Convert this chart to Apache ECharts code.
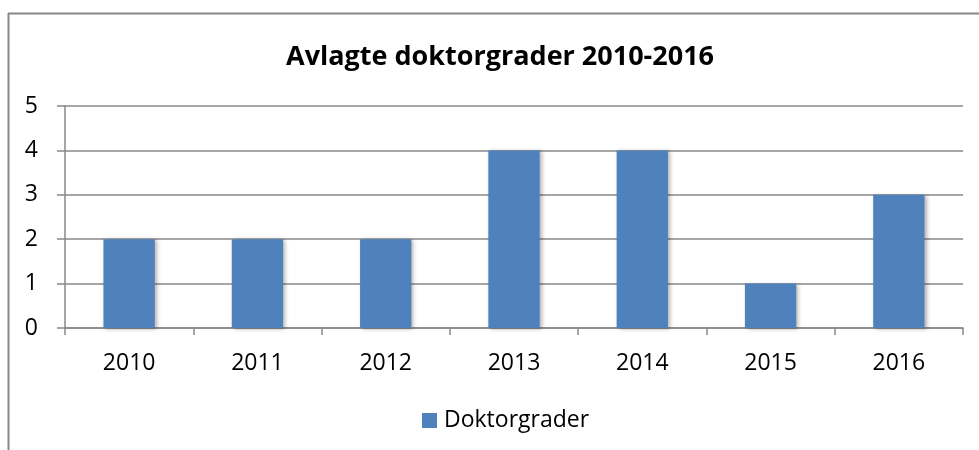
<!DOCTYPE html>
<html>
<head>
<meta charset="utf-8">
<script src="https://cdn.jsdelivr.net/npm/echarts@6/dist/echarts.min.js"></script>
<style>
html,body{margin:0;padding:0;background:#fff;}
#chart{width:979px;height:450px;}
</style>
</head>
<body>
<div id="chart"></div>
<script>
const titleText = 'Avlagte doktorgrader 2010-2016';
const seriesName = 'Doktorgrader';
const categories = ['2010', '2011', '2012', '2013', '2014', '2015', '2016'];
const values = [2, 2, 2, 4, 4, 1, 3];
const yTicks = [0, 1, 2, 3, 4, 5];

const chart = echarts.init(document.getElementById('chart'), null, {renderer: 'canvas'});
const FONT = '"Open Sans", sans-serif';
const GRAY = '#888888';
chart.setOption({
  animation: false,
  backgroundColor: '#ffffff',
  title: {
    text: titleText,
    left: 286,
    top: 44,
    padding: 0,
    textStyle: {fontFamily: FONT, fontWeight: 'bold', fontSize: 27, color: '#000'}
  },
  legend: {
    data: [seriesName],
    left: 422,
    top: 409,
    padding: 0,
    itemWidth: 15,
    itemHeight: 15,
    itemGap: 8,
    icon: 'rect',
    textStyle: {fontFamily: FONT, fontSize: 23, color: '#000', padding: [0, 0, 0, 2]}
  },
  grid: {left: 65, right: 16, top: 106, bottom: 122, containLabel: false},
  xAxis: {
    type: 'category',
    data: categories,
    axisLine: {lineStyle: {color: GRAY, width: 1.5}},
    axisTick: {show: true, length: 7, alignWithLabel: false, lineStyle: {color: GRAY, width: 1.5}},
    axisLabel: {fontFamily: FONT, fontSize: 23, color: '#000', margin: 24}
  },
  yAxis: {
    type: 'value',
    min: yTicks[0],
    max: yTicks[yTicks.length - 1],
    interval: 1,
    axisLine: {show: true, lineStyle: {color: GRAY, width: 1.5}},
    axisTick: {show: true, length: 8, lineStyle: {color: GRAY, width: 1.5}},
    splitLine: {lineStyle: {color: GRAY, width: 1.5}},
    axisLabel: {fontFamily: FONT, fontSize: 23, color: '#000', margin: 27}
  },
  series: [{
    name: seriesName,
    type: 'bar',
    data: values,
    barWidth: '40%',
    itemStyle: {
      color: '#4F81BD',
      shadowColor: 'rgba(0,0,0,0.3)',
      shadowBlur: 4,
      shadowOffsetX: 2,
      shadowOffsetY: 1
    }
  }],
  graphic: [
    {type: 'line', shape: {x1: 8, y1: 13.5, x2: 979, y2: 13.5}, style: {stroke: GRAY, lineWidth: 2}},
    {type: 'line', shape: {x1: 8.5, y1: 13, x2: 8.5, y2: 450}, style: {stroke: GRAY, lineWidth: 2}}
  ]
});
</script>
</body>
</html>
